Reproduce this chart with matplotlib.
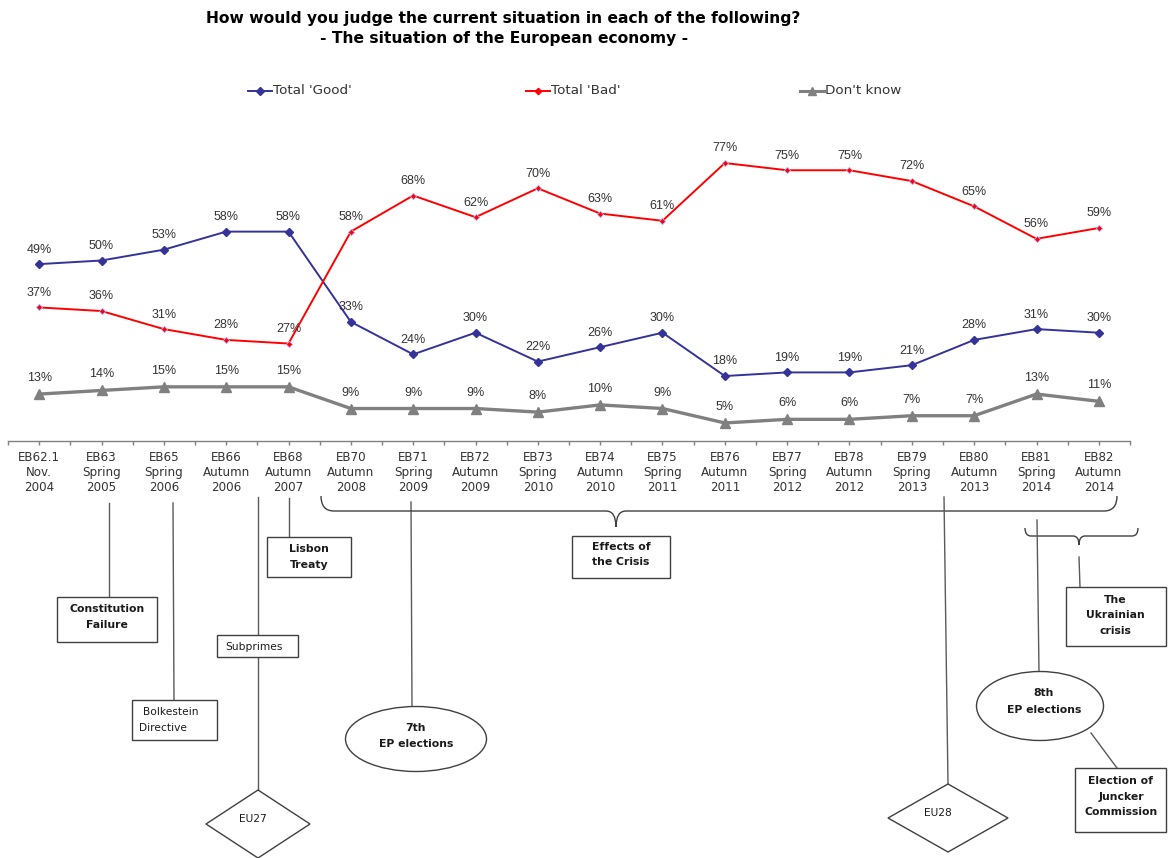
import matplotlib
matplotlib.use("Agg")
import numpy as np
import matplotlib.pyplot as plt
from matplotlib.patches import Rectangle, Ellipse, Polygon, PathPatch
from matplotlib.path import Path

# ---- survey data -------------------------------------------------------
waves = ["EB62.1\nNov.\n2004", "EB63\nSpring\n2005", "EB65\nSpring\n2006",
         "EB66\nAutumn\n2006", "EB68\nAutumn\n2007", "EB70\nAutumn\n2008",
         "EB71\nSpring\n2009", "EB72\nAutumn\n2009", "EB73\nSpring\n2010",
         "EB74\nAutumn\n2010", "EB75\nSpring\n2011", "EB76\nAutumn\n2011",
         "EB77\nSpring\n2012", "EB78\nAutumn\n2012", "EB79\nSpring\n2013",
         "EB80\nAutumn\n2013", "EB81\nSpring\n2014", "EB82\nAutumn\n2014"]
total_good = [49, 50, 53, 58, 58, 33, 24, 30, 22, 26, 30, 18, 19, 19, 21, 28, 31, 30]
total_bad = [37, 36, 31, 28, 27, 58, 68, 62, 70, 63, 61, 77, 75, 75, 72, 65, 56, 59]
dont_know = [13, 14, 15, 15, 15, 9, 9, 9, 8, 10, 9, 5, 6, 6, 7, 7, 13, 11]

GOOD_C = "#333399"
BAD_C = "#ff0000"
DK_C = "#808080"
LINE_C = "#5a5a5a"
EDGE_C = "#404040"
TXT_C = "#1a1a1a"

W, H = 1172, 858
fig = plt.figure(figsize=(W / 100, H / 100), dpi=100)
fig.patch.set_facecolor("white")

# overlay in pixel units for title, legend and event annotations
ov = fig.add_axes([0, 0, 1, 1])
ov.set_xlim(0, W)
ov.set_ylim(H, 0)
ov.axis("off")

# main data axes
ax = fig.add_axes([8 / W, 1 - 441 / H, 1122 / W, 361 / H])
ax.set_zorder(2)
ax.patch.set_alpha(0)
x = np.arange(len(waves))
ax.set_xlim(-0.5, len(waves) - 0.5)
ax.set_ylim(0, 100)
for s in ("top", "right", "left"):
    ax.spines[s].set_visible(False)
ax.spines["bottom"].set_color(DK_C)
ax.spines["bottom"].set_linewidth(1.0)
ax.set_yticks([])
ax.set_xticks(x)
ax.set_xticklabels(waves, fontsize=8.6, color="#333333", linespacing=1.18,
                   family="DejaVu Sans")
ax.set_xticks(np.arange(-0.5, len(waves)), minor=True)
ax.tick_params(axis="x", which="both", direction="out", length=3, width=1,
               color=DK_C, pad=4.5)

ax.plot(x, total_good, color=GOOD_C, lw=1.4, marker="D", ms=4,
        mfc=GOOD_C, mec=GOOD_C, zorder=3)
ax.plot(x, total_bad, color=BAD_C, lw=1.4, marker="D", ms=3.2,
        mfc=BAD_C, mec="#b0b0ff", mew=0.6, zorder=3)
ax.plot(x, dont_know, color=DK_C, lw=2.4, marker="^", ms=7,
        mfc=DK_C, mec=DK_C, zorder=3)

lab_kw = dict(textcoords="offset points", ha="center", va="center",
              fontsize=9, family="Liberation Sans", color="#333333", zorder=4)
for series, dy in ((total_good, 10.5), (total_bad, 10.5), (dont_know, 11.5)):
    for i, v in enumerate(series):
        ax.annotate(f"{v}%", (i, v), xytext=(0, dy), **lab_kw)

# ---- title -------------------------------------------------------------
ov.text(503, 19, "How would you judge the current situation in each of the following?",
        ha="center", va="center", fontsize=11.2, fontweight="bold", color="black")
ov.text(504, 38, "- The situation of the European economy -",
        ha="center", va="center", fontsize=11.2, fontweight="bold", color="black")

# ---- legend ------------------------------------------------------------
leg_items = [(248, "Total 'Good'", GOOD_C, "D", 4, 1.4),
             (526, "Total 'Bad'", BAD_C, "D", 3.2, 1.4),
             (800, "Don't know", DK_C, "^", 6, 2.2)]
for lx, name, col, mk, ms, lw in leg_items:
    ov.plot([lx, lx + 24], [91, 91], color=col, lw=lw)
    ov.plot([lx + 12], [91], marker=mk, ms=ms, color=col, mec=col)
    ov.text(lx + 25, 91, name, ha="left", va="center", fontsize=9.7,
            color="#333333")


# ---- event annotations ---------------------------------------------------
def connector(x0, y0, x1, y1):
    ov.plot([x0, x1], [y0, y1], color=LINE_C, lw=1.0, zorder=1)


def rect(x0, y0, x1, y1):
    ov.add_patch(Rectangle((x0, y0), x1 - x0, y1 - y0, fc="white",
                           ec=EDGE_C, lw=1.0, zorder=2))


def ellipse(cx, cy, w, h):
    ov.add_patch(Ellipse((cx, cy), w, h, fc="white", ec=EDGE_C, lw=1.0, zorder=2))


def diamond(cx, cy, hw, hh):
    ov.add_patch(Polygon([(cx, cy - hh), (cx + hw, cy), (cx, cy + hh), (cx - hw, cy)],
                         closed=True, fc="white", ec=EDGE_C, lw=1.0, zorder=2))


def label_lines(cx, ys, texts, bold=True, size=7.8, ha="center"):
    for y, t in zip(ys, texts):
        ov.text(cx, y, t, ha=ha, va="center", fontsize=size,
                fontweight="bold" if bold else "normal", color=TXT_C, zorder=3)


def brace(x0, x1, xm, ytop, yh, ytip, r, rt):
    verts = [(x0, ytop), (x0, yh), (x0 + r, yh),
             (xm - rt, yh), (xm, yh), (xm, ytip),
             (xm, yh), (xm + rt, yh),
             (x1 - r, yh), (x1, yh), (x1, ytop)]
    codes = [Path.MOVETO, Path.CURVE3, Path.CURVE3,
             Path.LINETO, Path.CURVE3, Path.CURVE3,
             Path.CURVE3, Path.CURVE3,
             Path.LINETO, Path.CURVE3, Path.CURVE3]
    ov.add_patch(PathPatch(Path(verts, codes), fc="none", ec=EDGE_C, lw=1.0))


# Constitution failure
connector(109, 503, 109, 597)
rect(57, 597, 157, 642)
label_lines(107, [609, 625], ["Constitution", "Failure"])

# Bolkestein directive
connector(173, 503, 174, 700)
rect(132, 700, 217, 740)
ov.text(143, 712, "Bolkestein", ha="left", va="center", fontsize=7.7, color=TXT_C, zorder=3)
ov.text(139, 728, "Directive", ha="left", va="center", fontsize=7.7, color=TXT_C, zorder=3)

# Subprimes / EU27
connector(258, 497, 258, 790)
rect(217, 635, 298, 657)
ov.text(225, 647, "Subprimes", ha="left", va="center", fontsize=7.7, color=TXT_C, zorder=3)
diamond(258, 824, 52, 34)
ov.text(253, 819, "EU27", ha="center", va="center", fontsize=7.7, color=TXT_C, zorder=3)

# Lisbon treaty
connector(289, 498, 289, 537)
rect(267, 537, 351, 577)
label_lines(309, [549, 565], ["Lisbon", "Treaty"])

# 7th EP elections
connector(411, 502, 412, 707)
ellipse(416, 739, 141, 65)
label_lines(416, [728, 744], ["7th", "EP elections"])

# Effects of the crisis
brace(321, 1117, 616, 496, 511, 527, 13, 10)
rect(572, 536, 670, 578)
label_lines(621, [547, 562], ["Effects of", "the Crisis"])

# EU28
connector(944, 497, 948, 784)
diamond(948, 818, 60, 34)
ov.text(938, 813, "EU28", ha="center", va="center", fontsize=7.7, color=TXT_C, zorder=3)

# Ukrainian crisis
brace(1025, 1138, 1079, 528, 536, 545, 6, 6)
connector(1079, 557, 1080, 587)
rect(1066, 587, 1166, 646)
label_lines(1115, [600, 615, 631], ["The", "Ukrainian", "crisis"])

# 8th EP elections and Juncker Commission
connector(1037, 520, 1039, 672)
ellipse(1040, 706, 127, 69)
label_lines(1044, [693, 710], ["8th", "EP elections"])
connector(1091, 733, 1117, 768)
rect(1075, 768, 1166, 832)
label_lines(1121, [781, 797, 812], ["Election of", "Juncker", "Commission"])

fig.savefig("out.png", dpi=100, facecolor="white")
